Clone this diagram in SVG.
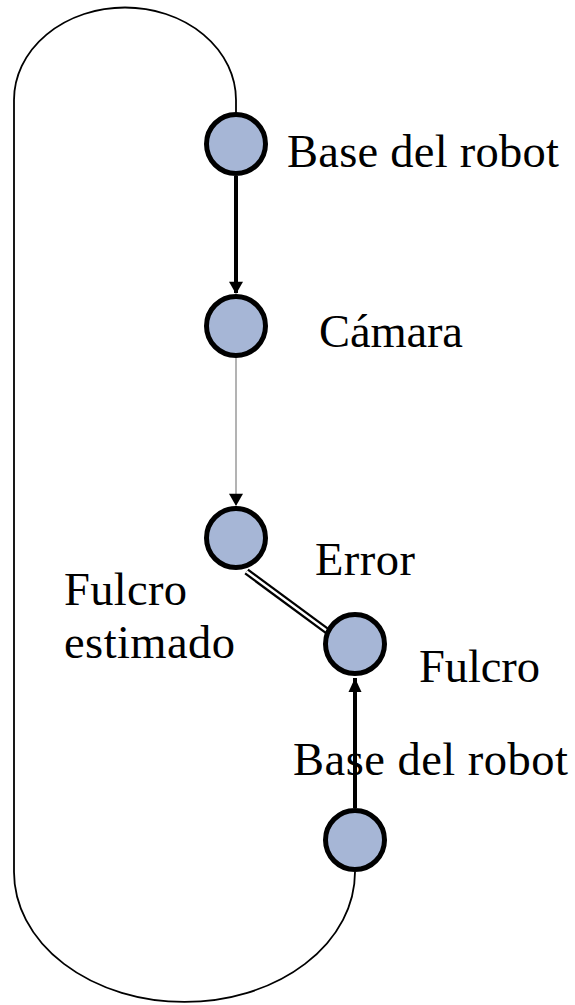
<svg xmlns="http://www.w3.org/2000/svg" width="575" height="1005" viewBox="0 0 575 1005">
<style>
.node{fill:#A6B6D6;stroke:#000;stroke-width:5}
.lbl{font-family:"Liberation Serif","Times New Roman",serif;font-size:46.5px;fill:#000}
.thick{stroke:#000;stroke-width:4;fill:none}
</style>
<defs>
<marker id="ahBig" markerUnits="userSpaceOnUse" markerWidth="16" markerHeight="14" refX="13" refY="8" orient="auto" viewBox="0 0 14 16">
<path d="M0,0 L14,8 L0,16 Z" fill="#000"/>
</marker>
<marker id="ahSmall" markerUnits="userSpaceOnUse" markerWidth="14" markerHeight="14" refX="14" refY="6.5" orient="auto" viewBox="0 0 14 13">
<path d="M0,0 L14,6.5 L0,13 Z" fill="#000"/>
</marker>
</defs>
<rect width="575" height="1005" fill="#fff"/>
<g id="connectors">
<path d="M236,114 L236,100 A111,92.5 0 0 0 14,100 L14,872 A170.5,130 0 0 0 355,872" fill="none" stroke="#000" stroke-width="1.8"/>
<line x1="236" y1="176" x2="236" y2="293" class="thick" marker-end="url(#ahBig)"/>
<line x1="236" y1="358" x2="236" y2="505" stroke="#808080" stroke-width="1.2" marker-end="url(#ahBig)"/>
<g id="error-link">
<line x1="246.5" y1="571.5" x2="328.5" y2="632" stroke="#000" stroke-width="7"/>
<line x1="246.5" y1="571.5" x2="328.5" y2="632" stroke="#fff" stroke-width="2.4"/>
</g>
</g>
<g id="node-base-top">
<circle class="node" cx="236" cy="144" r="29.5"/>
<text class="lbl" x="287" y="167" textLength="272">Base del robot</text>
</g>
<g id="node-camara">
<circle class="node" cx="236" cy="326" r="29.5"/>
<text class="lbl" x="319" y="347" textLength="144">Cámara</text>
</g>
<g id="node-fulcro-estimado">
<circle class="node" cx="236" cy="538" r="29.5"/>
<text class="lbl" x="315" y="575" textLength="100">Error</text>
<text class="lbl" x="64" y="605" textLength="123">Fulcro</text>
<text class="lbl" x="64" y="658" textLength="171">estimado</text>
</g>
<g id="node-fulcro">
<circle class="node" cx="355" cy="644" r="29.5"/>
<text class="lbl" x="419" y="682" textLength="121">Fulcro</text>
</g>
<g id="node-base-bottom">
<circle class="node" cx="355" cy="840" r="29.5"/>
<text class="lbl" x="293" y="775" textLength="275">Base del robot</text>
</g>
<line x1="355" y1="808" x2="355" y2="678" class="thick" marker-end="url(#ahSmall)"/>
</svg>
